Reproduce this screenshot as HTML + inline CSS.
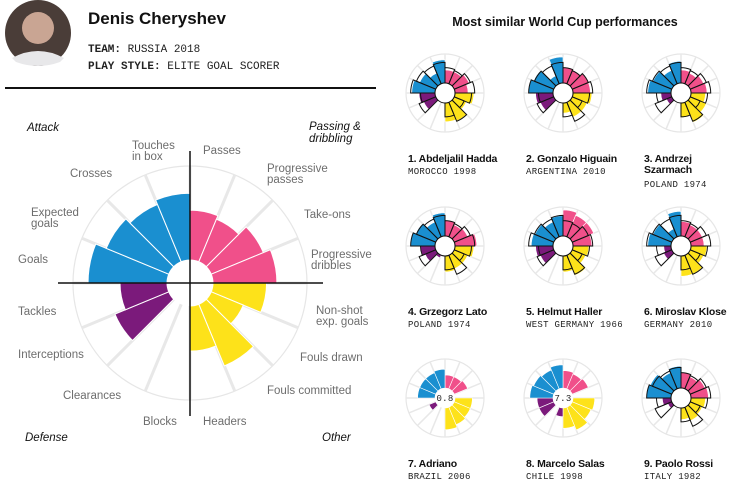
<!DOCTYPE html>
<html><head><meta charset="utf-8">
<style>
body{margin:0;background:#fff;width:730px;height:489px;overflow:hidden;font-family:"Liberation Sans",sans-serif;}
svg{display:block}
.lab{font-size:11.5px;fill:#6d6d6d}
.it{font-size:11.5px;font-style:italic;fill:#111}
.nm{font-size:10.5px;font-weight:bold;fill:#111;letter-spacing:-0.2px}
.mono{font-family:"Liberation Mono",monospace;font-size:9px;fill:#222;letter-spacing:0.3px}
</style></head>
<body>
<svg id="chart" width="730" height="489">
  <circle cx="38" cy="33" r="33" fill="#4a3d38"/>
  <circle cx="38" cy="28" r="16" fill="#c9a593"/>
  <path d="M12 58 Q38 44 64 58 L60 62 Q38 70 16 62Z" fill="#e8e8ea"/>
  <text x="88" y="24" font-size="17" font-weight="bold" fill="#111">Denis Cheryshev</text>
  <text x="88" y="52" font-family="Liberation Mono,monospace" font-size="11" fill="#222"><tspan font-weight="bold">TEAM:</tspan> RUSSIA 2018</text>
  <text x="88" y="69" font-family="Liberation Mono,monospace" font-size="11" fill="#222"><tspan font-weight="bold">PLAY STYLE:</tspan> ELITE GOAL SCORER</text>
  <line x1="5" y1="88" x2="376" y2="88" stroke="#111" stroke-width="2"/>
  <text x="565" y="26" text-anchor="middle" font-size="12.5" font-weight="bold" fill="#111">Most similar World Cup performances</text>
  <g id="main"></g>
  <g id="small"></g>
</svg>
<script>
const categories=["Passes","Progressive passes","Take-ons","Progressive dribbles","Non-shot exp. goals","Fouls drawn","Fouls committed","Headers","Blocks","Clearances","Interceptions","Tackles","Goals","Expected goals","Crosses","Touches in box"];
const groupColors=["#f0508a","#f0508a","#f0508a","#f0508a","#fde21a","#fde21a","#fde21a","#fde21a","#7b1a7b","#7b1a7b","#7b1a7b","#7b1a7b","#1a8fd0","#1a8fd0","#1a8fd0","#1a8fd0"];
const cheryshev=[53,49,60,68,57,37,71,48,0,0,62,50,84,72,66,71];
const similarNames=["1. Abdeljalil Hadda","2. Gonzalo Higuain","3. Andrzej|Szarmach","4. Grzegorz Lato","5. Helmut Haller","6. Miroslav Klose","7. Adriano","8. Marcelo Salas","9. Paolo Rossi"];
const similarTeams=["MOROCCO 1998","ARGENTINA 2010","POLAND 1974","POLAND 1974","WEST GERMANY 1966","GERMANY 2010","BRAZIL 2006","CHILE 1998","ITALY 1982"];
const similarCenterText=["","","","","","","0.8","7.3",""];
const sim1=[45,45,55,45,65,45,70,65,0,0,45,55,80,60,40,80];
const sim2=[55,50,60,60,65,55,55,35,0,0,50,60,85,75,30,90];
const sim3=[45,40,50,55,50,60,75,50,0,0,20,35,80,70,50,75];
const sim4=[55,45,50,75,65,50,50,55,0,10,40,50,85,75,55,80];
const sim5=[90,80,80,65,55,50,75,55,0,0,50,60,75,70,55,70];
const sim6=[50,45,45,45,55,50,70,70,0,0,30,25,80,70,30,85];
const sim7=[45,45,50,0,60,60,65,75,0,0,25,0,60,60,60,65];
const sim8=[60,55,60,0,75,70,85,70,30,0,55,55,80,75,70,80];
const sim9=[55,45,55,60,50,45,50,40,0,0,15,30,85,80,60,75];
const simValues=[sim1,sim2,sim3,sim4,sim5,sim6,sim7,sim8,sim9];
const showOutline=[true,true,true,true,true,true,false,false,true];

const NS="http://www.w3.org/2000/svg";
function mk(tag,attrs,parent){const e=document.createElementNS(NS,tag);for(const k in attrs)e.setAttribute(k,attrs[k]);parent.appendChild(e);return e;}
function rScale(v,r0,r1){return r0+(r1-r0)*v/100;}
function pt(cx,cy,r,a){const t=(a-90)*Math.PI/180;return [cx+r*Math.cos(t),cy+r*Math.sin(t)];}
function sector(cx,cy,ri,ro,a0,a1){
  const p1=pt(cx,cy,ri,a0),p2=pt(cx,cy,ro,a0),p3=pt(cx,cy,ro,a1),p4=pt(cx,cy,ri,a1);
  return `M${p1[0]},${p1[1]}L${p2[0]},${p2[1]}A${ro},${ro} 0 0 1 ${p3[0]},${p3[1]}L${p4[0]},${p4[1]}A${ri},${ri} 0 0 0 ${p1[0]},${p1[1]}Z`;
}
function grid(g,cx,cy,ri,ro,sw){
  const c=mk('circle',{cx:cx,cy:cy,r:ro,fill:'none',stroke:'#e6e6e6','stroke-width':1.2},g);
  
  
  for(let i=0;i<16;i++){
    const a=i*22.5,p1=pt(cx,cy,ri,a),p2=pt(cx,cy,ro,a);
    const l=mk('line',{x1:p1[0],y1:p1[1],x2:p2[0],y2:p2[1],stroke:'#e8e8e8','stroke-width':sw},g);
    
    
  }
}
const main=document.getElementById('main');
const CX=190,CY=283,RI=23,RO=117;
grid(main,CX,CY,RI,RO,3);
categories.forEach((c,i)=>{
  const v=cheryshev[i]; if(v<=0)return;
  const p=mk('path',{d:sector(CX,CY,RI,rScale(v,RI,RO),i*22.5,(i+1)*22.5),fill:groupColors[i],stroke:'#fff','stroke-width':1},main);
  
  
});
const hole=mk('circle',{cx:CX,cy:CY,r:RI,fill:'#fff'},main);


const ax1=mk('line',{x1:CX,y1:151,x2:CX,y2:416,stroke:'#111','stroke-width':1.5},main);


const ax2=mk('line',{x1:58,y1:CY,x2:323,y2:CY,stroke:'#111','stroke-width':1.5},main);


const labels=[
 ["Passes",203,154],["Progressive|passes",267,172],["Take-ons",304,218],["Progressive|dribbles",311,258],
 ["Non-shot|exp. goals",316,314],["Fouls drawn",300,361],["Fouls committed",267,394],["Headers",203,425],
 ["Blocks",143,425],["Clearances",63,399],["Interceptions",18,358],["Tackles",18,315],
 ["Goals",18,263],["Expected|goals",31,216],["Crosses",70,177],["Touches|in box",132,149]];
labels.forEach(l=>{
  const t=mk('text',{x:l[1],y:l[2],class:'lab'},main);
  l[0].split('|').forEach((s,j)=>{const ts=mk('tspan',{x:l[1],dy:j?11:0},t);ts.textContent=s;});
  
  
});
const groups=[["Attack",27,131],["Passing &|dribbling",309,130],["Defense",25,441],["Other",322,441]];
groups.forEach(l=>{
  const t=mk('text',{x:l[1],y:l[2],class:'it'},main);
  l[0].split('|').forEach((s,j)=>{const ts=mk('tspan',{x:l[1],dy:j?12:0},t);ts.textContent=s;});
  
  
});
const small=document.getElementById('small');
const colX=[445,563,681],rowY=[93,246,398];
simValues.forEach((vals,k)=>{
  const cx=colX[k%3],cy=rowY[Math.floor(k/3)],ri=10,ro=39;
  const g=mk('g',{},small);
  
  
  grid(g,cx,cy,ri,ro,1.5);
  if(showOutline[k]) cheryshev.forEach((v,i)=>{ if(v<=0)return;
    const p=mk('path',{d:sector(cx,cy,ri,rScale(v,ri,ro),i*22.5,(i+1)*22.5),fill:'#fff',stroke:'none'},g);
    
    
  });
  vals.forEach((v,i)=>{ if(v<=0)return;
    const p=mk('path',{d:sector(cx,cy,ri,rScale(v,ri,ro),i*22.5,(i+1)*22.5),fill:groupColors[i],stroke:'#fff','stroke-width':0.6},g);
    
    
  });
  if(showOutline[k]) cheryshev.forEach((v,i)=>{ if(v<=0)return;
    const p=mk('path',{d:sector(cx,cy,ri,rScale(v,ri,ro),i*22.5,(i+1)*22.5),fill:'none',stroke:'#111','stroke-width':1},g);
    
    
  });
  const h=mk('circle',{cx:cx,cy:cy,r:ri,fill:'#fff',stroke:showOutline[k]?'#111':'none','stroke-width':1},g);
  
  
  if(similarCenterText[k]){
    const ct=mk('text',{x:cx,y:cy+3,'text-anchor':'middle',class:'mono'},g);ct.textContent=similarCenterText[k];
    
    
  }
  const nameParts=similarNames[k].split('|');
  const tx=cx-37;
  const nt=mk('text',{x:tx,y:cy+69,class:'nm'},g);
  nameParts.forEach((s,j)=>{const ts=mk('tspan',{x:tx,dy:j?11:0},nt);ts.textContent=s;});
  
  
  const tt=mk('text',{x:tx,y:cy+81+(nameParts.length-1)*13,class:'mono'},g);tt.textContent=similarTeams[k];
  
  
});
</script>
</body></html>
